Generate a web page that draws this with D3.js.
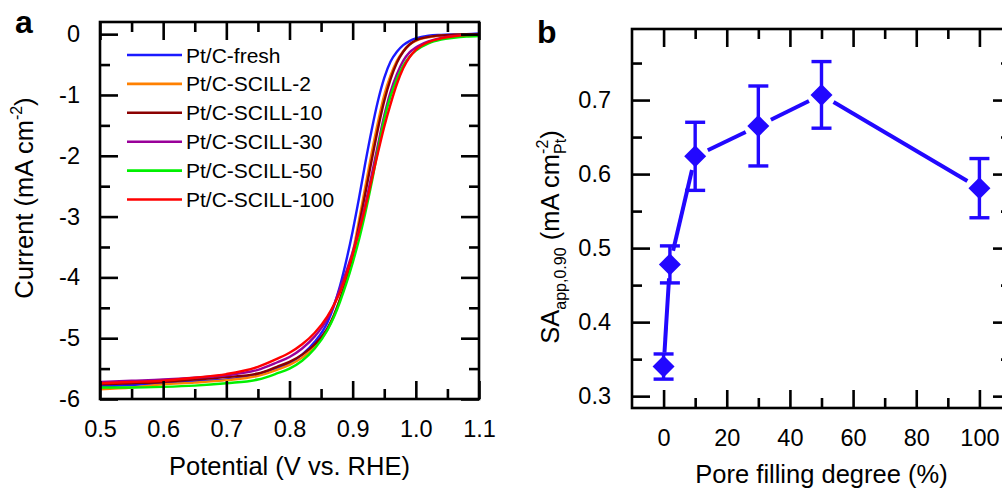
<!DOCTYPE html>
<html>
<head>
<meta charset="utf-8">
<script src="https://cdn.jsdelivr.net/npm/d3@7"></script>
<style>
  body { margin: 0; background: #fff; }
  svg { font-family: "Liberation Sans", Arial, sans-serif; }
  .tick text { fill: #000; }
</style>
</head>
<body>
<svg id="chart" width="1002" height="488"></svg>
<script>
// ---- panel a: ORR polarisation curves (mA cm-2 vs V RHE) ----
const potential = [0.50, 0.55, 0.60, 0.65, 0.70, 0.75, 0.78, 0.80, 0.82, 0.84, 0.86, 0.87, 0.88, 0.89,
  0.90, 0.91, 0.92, 0.93, 0.94, 0.95, 0.96, 0.97, 0.98, 0.99, 1.00, 1.02, 1.04, 1.06, 1.08, 1.10];

const iFresh = [-5.79, -5.77, -5.74, -5.71, -5.68, -5.59, -5.49, -5.41, -5.27, -5.06, -4.74, -4.48, -4.14, -3.72,
  -3.24, -2.70, -2.12, -1.58, -1.10, -0.72, -0.45, -0.29, -0.18, -0.115, -0.07, -0.025, -0.012, -0.005, 0.0, 0.01];
const iScill2 = [-5.84, -5.81, -5.76, -5.73, -5.69, -5.62, -5.52, -5.44, -5.32, -5.14, -4.86, -4.64, -4.36, -4.02,
  -3.60, -3.06, -2.51, -1.96, -1.45, -1.00, -0.68, -0.44, -0.28, -0.17, -0.11, -0.05, -0.025, -0.012, -0.005, 0.0];
const iScill10 = [-5.76, -5.74, -5.72, -5.68, -5.64, -5.58, -5.47, -5.39, -5.27, -5.10, -4.84, -4.63, -4.36, -4.05,
  -3.66, -3.15, -2.62, -2.08, -1.56, -1.10, -0.74, -0.47, -0.29, -0.17, -0.10, -0.045, -0.02, -0.01, -0.005, 0.0];
const iScill30 = [-5.72, -5.70, -5.68, -5.65, -5.61, -5.52, -5.40, -5.31, -5.17, -4.97, -4.68, -4.46, -4.18, -3.90,
  -3.58, -3.22, -2.80, -2.32, -1.82, -1.34, -0.95, -0.66, -0.44, -0.30, -0.22, -0.12, -0.06, -0.03, -0.015, -0.005];
const iScill50 = [-5.81, -5.81, -5.80, -5.78, -5.74, -5.68, -5.58, -5.50, -5.37, -5.17, -4.87, -4.66, -4.40, -4.10,
  -3.76, -3.38, -2.94, -2.45, -1.90, -1.40, -1.02, -0.74, -0.52, -0.37, -0.27, -0.15, -0.09, -0.06, -0.04, -0.03];
const iScill100 = [-5.74, -5.72, -5.70, -5.65, -5.59, -5.47, -5.34, -5.24, -5.10, -4.91, -4.64, -4.46, -4.24, -3.96,
  -3.62, -3.25, -2.85, -2.40, -1.95, -1.52, -1.15, -0.82, -0.56, -0.38, -0.26, -0.13, -0.07, -0.035, -0.015, -0.005];

const seriesNames = ['Pt/C-fresh', 'Pt/C-SCILL-2', 'Pt/C-SCILL-10', 'Pt/C-SCILL-30', 'Pt/C-SCILL-50', 'Pt/C-SCILL-100'];
const seriesValues = [iFresh, iScill2, iScill10, iScill30, iScill50, iScill100];
const seriesColors = ['#1a1aff', '#ff8000', '#8b0000', '#990099', '#00f000', '#ff0000'];

const potentialTicks = [0.5, 0.6, 0.7, 0.8, 0.9, 1.0, 1.1];
const currentTicks = [0, -1, -2, -3, -4, -5, -6];

// ---- panel b: specific activity vs pore filling ----
const poreFilling = [0, 2, 10, 30, 50, 100];
const saValues = [0.340, 0.478, 0.624, 0.665, 0.707, 0.581];
const saError = [0.017, 0.025, 0.046, 0.054, 0.045, 0.040];
const poreTicks = [0, 20, 40, 60, 80, 100];
const saTicks = [0.3, 0.4, 0.5, 0.6, 0.7];

const svg = d3.select('#chart');
svg.append('rect').attr('width', 1002).attr('height', 488).attr('fill', '#fff');

const tickFont = 23.5, titleFont = 25.5;

// draws a boxed frame with inward ticks on all four sides
function frame(g, x, y, xMajor, xMinor, yMajor, yMinor, xFmt, yFmt, xPad, yPad) {
    const [x0, x1] = x.range(), [y0, y1] = y.range();
    const h = y0 - y1, w = x1 - x0;

    const axes = [
        [d3.axisBottom(x), y0, xFmt, xPad],
        [d3.axisTop(x), y1, null, 0],
    ];
    axes.forEach(([ax, ty, fmt, pad]) => {
        const a = g.append('g').attr('transform', `translate(0,${ty})`);
        a.call(ax.tickValues(xMajor).tickSize(-18).tickPadding(pad).tickFormat(fmt ? fmt : ''));
        const b = g.append('g').attr('transform', `translate(0,${ty})`);
        b.call(ax.tickValues(xMinor).tickSize(-10).tickFormat(''));
        [a, b].forEach(s => s.select('.domain').remove());
    });
    const yAxes = [
        [d3.axisLeft(y), x0, yFmt, yPad],
        [d3.axisRight(y), x1, null, 0],
    ];
    yAxes.forEach(([ax, tx, fmt, pad]) => {
        const a = g.append('g').attr('transform', `translate(${tx},0)`);
        a.call(ax.tickValues(yMajor).tickSize(-18).tickPadding(pad).tickFormat(fmt ? fmt : ''));
        const b = g.append('g').attr('transform', `translate(${tx},0)`);
        b.call(ax.tickValues(yMinor).tickSize(-10).tickFormat(''));
        [a, b].forEach(s => s.select('.domain').remove());
    });
    g.selectAll('.tick line').attr('stroke', '#000').attr('stroke-width', 2.6);
    g.selectAll('.tick text').attr('font-size', tickFont);
    g.append('rect')
        .attr('x', x0).attr('y', y1).attr('width', w).attr('height', h)
        .attr('fill', 'none').attr('stroke', '#000').attr('stroke-width', 2.6);
}

// ---------- panel a ----------
const xA = d3.scaleLinear().domain([0.5, 1.1]).range([100, 479]);
const yA = d3.scaleLinear().domain([-6, 0.2]).range([399, 22]);
const gA = svg.append('g');

svg.append('clipPath').attr('id', 'clipA')
    .append('rect').attr('x', 100).attr('y', 22).attr('width', 379).attr('height', 377);

const line = d3.line()
    .x((d, i) => xA(potential[i]))
    .y(d => yA(d))
    .curve(d3.curveMonotoneX);

gA.append('g').attr('clip-path', 'url(#clipA)')
    .selectAll('path')
    .data(seriesValues)
    .join('path')
    .attr('d', line)
    .attr('fill', 'none')
    .attr('stroke', (d, i) => seriesColors[i])
    .attr('stroke-width', 2.4);

frame(gA, xA, yA,
    potentialTicks, d3.range(0.55, 1.1, 0.1),
    currentTicks, d3.range(-5.5, 0, 1),
    d3.format('.1f'), d => String(d), 21, 20);

// legend
const leg = gA.append('g');
seriesNames.forEach((name, i) => {
    const ly = 55 + i * 28.9;
    leg.append('line').attr('x1', 127).attr('x2', 182).attr('y1', ly).attr('y2', ly)
        .attr('stroke', seriesColors[i]).attr('stroke-width', 2.6);
    leg.append('text').attr('x', 186).attr('y', ly).attr('dy', '0.36em')
        .attr('font-size', 21).text(name);
});

gA.append('text').attr('x', 289.5).attr('y', 475).attr('text-anchor', 'middle')
    .attr('font-size', titleFont).text('Potential (V vs. RHE)');

const tA = gA.append('text').attr('transform', 'translate(33,198) rotate(-90)')
    .attr('text-anchor', 'middle').attr('font-size', titleFont);
tA.append('tspan').text('Current (mA cm');
tA.append('tspan').attr('font-size', 16).attr('dy', -11).text('-2');
tA.append('tspan').attr('dy', 11).text(')');

svg.append('text').attr('x', 15).attr('y', 33).attr('font-size', 32)
    .attr('font-weight', 'bold').text('a');

// ---------- panel b ----------
const xB = d3.scaleLinear().domain([-10, 110]).range([632, 1011]);
const yB = d3.scaleLinear().domain([0.284, 0.796]).range([408, 29]);
const gB = svg.append('g');
const blue = '#2208ff';

frame(gB, xB, yB,
    poreTicks, d3.range(10, 100, 20),
    saTicks, d3.range(0.35, 0.8, 0.1),
    d3.format('d'), d3.format('.1f'), 21, 21);

const pts = poreFilling.map((p, i) => ({ x: xB(p), y: yB(saValues[i]), i }));

// connecting segments, with a small gap around each marker
const gap = 14;
const segs = d3.pairs(pts).map(([a, b]) => {
    const dx = b.x - a.x, dy = b.y - a.y, len = Math.hypot(dx, dy);
    const ux = dx / len, uy = dy / len;
    return [a.x + ux * gap, a.y + uy * gap, b.x - ux * gap, b.y - uy * gap];
});
gB.selectAll('line.seg').data(segs).join('line').attr('class', 'seg')
    .attr('x1', d => d[0]).attr('y1', d => d[1]).attr('x2', d => d[2]).attr('y2', d => d[3])
    .attr('stroke', blue).attr('stroke-width', 4);

// error bars
const eb = gB.selectAll('g.err').data(pts).join('g').attr('class', 'err')
    .attr('stroke', blue).attr('stroke-width', 3.4);
eb.append('line')
    .attr('x1', d => d.x).attr('x2', d => d.x)
    .attr('y1', d => yB(saValues[d.i] + saError[d.i]))
    .attr('y2', d => yB(saValues[d.i] - saError[d.i]));
[1, -1].forEach(s => {
    eb.append('line')
        .attr('x1', d => d.x - 10).attr('x2', d => d.x + 10)
        .attr('y1', d => yB(saValues[d.i] + s * saError[d.i]))
        .attr('y2', d => yB(saValues[d.i] + s * saError[d.i]));
});

// diamond markers
gB.selectAll('path.mk').data(pts).join('path').attr('class', 'mk')
    .attr('d', d => `M${d.x},${d.y - 11}L${d.x + 11},${d.y}L${d.x},${d.y + 11}L${d.x - 11},${d.y}Z`)
    .attr('fill', blue);

gB.append('text').attr('x', 821.5).attr('y', 483).attr('text-anchor', 'middle')
    .attr('font-size', titleFont).text('Pore filling degree (%)');

const tB = gB.append('text').attr('transform', 'translate(559,237) rotate(-90)')
    .attr('text-anchor', 'middle').attr('font-size', titleFont);
tB.append('tspan').text('SA');
tB.append('tspan').attr('font-size', 16).attr('dy', 7).text('app,0.90');
tB.append('tspan').attr('dy', -7).text(' (mA cm');
const sup = tB.append('tspan').attr('font-size', 16).attr('dy', -11).text('-2');
tB.append('tspan').attr('font-size', 16).attr('dx', -sup.node().getComputedTextLength())
    .attr('dy', 18).text('Pt');
tB.append('tspan').attr('dy', -7).text(')');

svg.append('text').attr('x', 537).attr('y', 43).attr('font-size', 32)
    .attr('font-weight', 'bold').text('b');
</script>
</body>
</html>
